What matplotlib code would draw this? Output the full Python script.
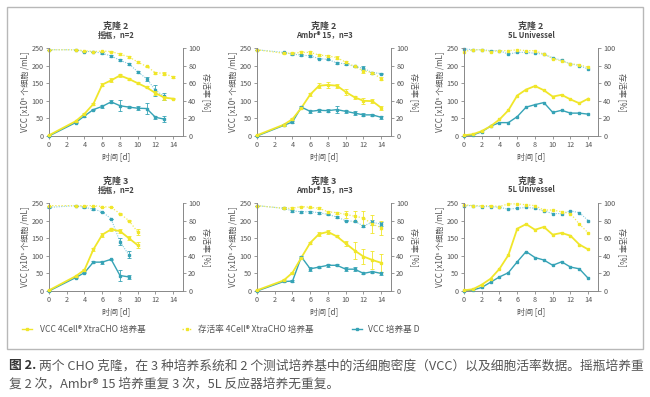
import numpy as np
import matplotlib
matplotlib.use("Agg")
import matplotlib.pyplot as plt
from matplotlib.lines import Line2D
from matplotlib.patches import Rectangle

plt.rcParams['font.family'] = ['Noto Sans CJK SC', 'DejaVu Sans']

YEL    = "#f0e62a"
YEL_L  = "#f3ec55"
TEAL   = "#36a3b6"
TEAL_L = "#86cde2"
TXT    = "#555555"
SPINE  = "#888888"

# ---- 克隆 2, 摇瓶 n=2
c2_sf_days     = [0, 3, 4, 5, 6, 7, 8, 9, 10, 11, 12, 13, 14]
c2_sf_vcc_a    = [2, 42, 63, 91, 146, 158, 172, 162, 150, 138, 122, 109, 106]
c2_sf_vcc_a_e  = [0, 2, 2, 2, 4, 6, 3, 4, 2, 3, 6, 6, 2]
c2_sf_via_a    = [98, 98, 97, 96, 96.5, 96, 93, 90, 84, 79, 72, 71, 67]
c2_sf_via_a_e  = [0, 0, 0, 0, 0.5, 0.5, 1, 1, 1, 1, 1, 2, 1]
c2_sf_days_d   = [0, 3, 4, 5, 6, 7, 8, 9, 10, 11, 12, 13]
c2_sf_vcc_d    = [0, 38, 57, 75, 84, 97, 86, 82, 79, 78, 53, 48]
c2_sf_vcc_d_e  = [0, 2, 2, 2, 5, 4, 15, 3, 5, 15, 4, 8]
c2_sf_via_d    = [98, 98, 96, 96, 94, 91, 86, 82, 73, 65, 52, 45]
c2_sf_via_d_e  = [0, 0, 1, 0, 1, 1, 1, 1, 1, 2, 6, 4]

# ---- 克隆 2, Ambr 15 n=3
c2_am_days     = [0, 3, 4, 5, 6, 7, 8, 9, 10, 11, 12, 13, 14]
c2_am_vcc_a    = [2, 32, 48, 80, 118, 143, 145, 143, 125, 110, 100, 99, 80]
c2_am_vcc_a_e  = [0, 3, 3, 3, 5, 8, 8, 6, 8, 5, 8, 6, 5]
c2_am_via_a    = [98, 94, 94, 95, 95, 92, 91, 89, 84, 79, 74, 72, 65]
c2_am_via_a_e  = [0, 1, 1, 1.5, 1.5, 1, 1, 1.5, 1.5, 1, 2, 1, 1.5]
c2_am_days_d   = [0, 3, 4, 5, 6, 7, 8, 9, 10, 11, 12, 13, 14]
c2_am_vcc_d    = [0, 30, 40, 82, 70, 73, 72, 75, 70, 65, 60, 60, 53]
c2_am_vcc_d_e  = [0, 2, 3, 2, 5, 5, 5, 10, 5, 5, 4, 3, 4]
c2_am_via_d    = [98, 95, 93, 92, 91, 88, 87, 83, 82, 79, 77, 72, 71]
c2_am_via_d_e  = [0, 1, 1, 1, 1, 1, 1, 1, 1, 1, 2, 1, 1]

# ---- 克隆 2, 5L Univessel
c2_uv_days     = list(range(15))
c2_uv_vcc_a    = [2, 5, 14, 28, 47, 73, 115, 132, 142, 130, 112, 117, 104, 93, 106]
c2_uv_via_a    = [96, 98, 98, 96, 97, 97, 98, 97, 97, 93, 88, 85, 82, 81, 78]
c2_uv_vcc_d    = [0, 3, 12, 28, 38, 38, 55, 82, 89, 95, 67, 73, 65, 65, 62]
c2_uv_via_d    = [99, 98, 98, 97, 97, 93, 95, 95, 94, 93, 89, 86, 82, 80, 76]

# ---- 克隆 3, 摇瓶 n=2
c3_sf_days     = [0, 3, 4, 5, 6, 7, 8, 9, 10]
c3_sf_vcc_a    = [2, 42, 60, 118, 160, 175, 170, 150, 130]
c3_sf_vcc_a_e  = [0, 2, 2, 4, 6, 5, 5, 6, 8]
c3_sf_via_a    = [97, 97, 97, 97, 96, 95, 88, 80, 67]
c3_sf_via_a_e  = [0, 0, 0, 0, 0, 0, 1, 1, 3]
c3_sf_days_d   = [0, 3, 4, 5, 6, 7, 8, 9]
c3_sf_vcc_d    = [0, 38, 52, 82, 82, 90, 44, 40]
c3_sf_vcc_d_e  = [0, 2, 2, 2, 4, 2, 15, 5]
c3_sf_via_d    = [95, 97, 95, 93, 90, 82, 56, 41]
c3_sf_via_d_e  = [1, 0, 1, 1, 0, 0, 4, 4]

# ---- 克隆 3, Ambr 15 n=3
c3_am_days     = [0, 3, 4, 5, 6, 7, 8, 9, 10, 11, 12, 13, 14]
c3_am_vcc_a    = [2, 30, 52, 95, 137, 162, 168, 155, 135, 115, 98, 88, 80]
c3_am_vcc_a_e  = [0, 3, 2, 3, 3, 5, 6, 3, 6, 25, 22, 25, 25]
c3_am_via_a    = [97, 94, 94, 96, 95, 94, 90, 89, 87, 85, 83, 76, 72]
c3_am_via_a_e  = [0, 1, 1, 1, 1, 1, 1, 1, 4, 6, 8, 10, 8]
c3_am_days_d   = [0, 3, 4, 5, 6, 7, 8, 9, 10, 11, 12, 13, 14]
c3_am_vcc_d    = [0, 27, 28, 97, 63, 68, 73, 73, 62, 62, 50, 55, 50]
c3_am_vcc_d_e  = [0, 2, 2, 2, 6, 3, 5, 3, 5, 5, 3, 3, 5]
c3_am_via_d    = [97, 94, 91, 90, 90, 89, 87, 84, 80, 79, 74, 78, 76]
c3_am_via_d_e  = [0, 1, 1, 1, 1, 1, 1, 1, 1, 1, 1, 3, 2]

# ---- 克隆 3, 5L Univessel
c3_uv_days     = list(range(15))
c3_uv_vcc_a    = [2, 5, 18, 35, 63, 102, 177, 190, 174, 182, 160, 165, 157, 132, 118]
c3_uv_via_a    = [98, 97, 97, 97, 96, 99, 99, 98, 97, 92, 92, 90, 88, 76, 66]
c3_uv_vcc_d    = [0, 3, 10, 25, 40, 52, 83, 112, 95, 88, 73, 83, 68, 63, 36]
c3_uv_via_d    = [97, 97, 96, 96, 95, 93, 94, 95, 94, 91, 88, 88, 91, 89, 80]

panel_titles = ["克隆 2", "克隆 2", "克隆 2", "克隆 3", "克隆 3", "克隆 3"]
panel_subs   = ["摇瓶，n=2", "Ambr® 15，n=3", "5L Univessel",
                "摇瓶，n=2", "Ambr® 15，n=3", "5L Univessel"]

panels = [
    (c2_sf_days, c2_sf_vcc_a, c2_sf_vcc_a_e, c2_sf_via_a, c2_sf_via_a_e,
     c2_sf_days_d, c2_sf_vcc_d, c2_sf_vcc_d_e, c2_sf_via_d, c2_sf_via_d_e),
    (c2_am_days, c2_am_vcc_a, c2_am_vcc_a_e, c2_am_via_a, c2_am_via_a_e,
     c2_am_days_d, c2_am_vcc_d, c2_am_vcc_d_e, c2_am_via_d, c2_am_via_d_e),
    (c2_uv_days, c2_uv_vcc_a, None, c2_uv_via_a, None,
     c2_uv_days, c2_uv_vcc_d, None, c2_uv_via_d, None),
    (c3_sf_days, c3_sf_vcc_a, c3_sf_vcc_a_e, c3_sf_via_a, c3_sf_via_a_e,
     c3_sf_days_d, c3_sf_vcc_d, c3_sf_vcc_d_e, c3_sf_via_d, c3_sf_via_d_e),
    (c3_am_days, c3_am_vcc_a, c3_am_vcc_a_e, c3_am_via_a, c3_am_via_a_e,
     c3_am_days_d, c3_am_vcc_d, c3_am_vcc_d_e, c3_am_via_d, c3_am_via_d_e),
    (c3_uv_days, c3_uv_vcc_a, None, c3_uv_via_a, None,
     c3_uv_days, c3_uv_vcc_d, None, c3_uv_via_d, None),
]

W, H = 650, 397
fig = plt.figure(figsize=(W / 100, H / 100), dpi=100)

# 外框
fig.patches.append(Rectangle((7 / W, 1 - 349 / H), 636 / W, 342 / H,
                             transform=fig.transFigure, fill=False,
                             edgecolor="#b8b8b8", lw=1.0))

lefts = [49, 257, 464]
bottoms = [136, 291]
aw, ah = 134, 88


def series(ax, x, y, e, color, lcolor, ls, lw):
    if e is not None:
        ax.errorbar(x, y, yerr=e, fmt="none", ecolor=color, elinewidth=0.6,
                    capsize=1.3, capthick=0.6, zorder=3, clip_on=False)
    ax.plot(x, y, ls=ls, color=lcolor, lw=lw, zorder=2, clip_on=False)
    ax.plot(x, y, ls="none", marker="s", ms=2.0, color=color, zorder=4,
            clip_on=False)


for i, p in enumerate(panels):
    dx, va, vae, ia, iae, dd, vd, vde, idv, ide = p
    L = lefts[i % 3]
    B = bottoms[i // 3]
    ax = fig.add_axes([L / W, 1 - B / H, aw / W, ah / H])
    ax2 = ax.twinx()
    ax.set_xlim(0, 15.1)
    ax.set_ylim(0, 250)
    ax2.set_ylim(0, 100)
    ax.set_xticks(range(0, 15, 2))
    ax.set_yticks(range(0, 251, 50))
    ax2.set_yticks(range(0, 101, 20))
    for a in (ax, ax2):
        a.spines["top"].set_visible(False)
        for s in a.spines.values():
            s.set_color(SPINE)
            s.set_linewidth(0.7)
        a.tick_params(labelsize=5.2, colors=SPINE, labelcolor=TXT,
                      length=2.2, width=0.6, pad=1.5)
    ax.spines["right"].set_visible(False)
    ax2.spines["left"].set_visible(False)
    ax2.spines["bottom"].set_visible(False)

    # 存活率 (右轴)
    series(ax2, dd, idv, ide, TEAL, TEAL_L, (0, (1, 1.2)), 0.8)
    series(ax2, dx, ia, iae, YEL, YEL_L, (0, (1, 1.5)), 0.9)
    # VCC (左轴) 画在上面
    ax.set_zorder(ax2.get_zorder() + 1)
    ax.patch.set_visible(False)
    series(ax, dd, vd, vde, TEAL, TEAL, "-", 1.0)
    series(ax, dx, va, vae, YEL, YEL, "-", 1.3)

    ax.set_xlabel("时间 [d]", fontsize=5.8, color=TXT, labelpad=2)
    ax.set_ylabel("VCC [x10⁵ 个细胞 /mL]", fontsize=5.8, color=TXT, labelpad=2)
    ax2.set_ylabel("存活率 [%]", fontsize=5.8, color=TXT, rotation=270,
                   labelpad=8)

    cx = (L + aw / 2) / W
    top = B - ah
    fig.text(cx, 1 - (top - 22) / H, panel_titles[i], ha="center",
             va="center", fontsize=6.5, fontweight="bold", color="#444444")
    fig.text(cx, 1 - (top - 13) / H, panel_subs[i], ha="center",
             va="center", fontsize=5.5, fontweight="bold", color="#444444")

# 图例
legend_items = [
    ("VCC 4Cell® XtraCHO 培养基", YEL, "-", 22, 40),
    ("存活率 4Cell® XtraCHO 培养基", YEL, ":", 182, 198),
    ("VCC 培养基 D", TEAL, "-", 352, 368),
]
ly = 1 - 329 / H
for lab, col, ls, x0, xt in legend_items:
    fig.add_artist(Line2D([x0 / W, (x0 + 10) / W], [ly, ly], color=col,
                          ls=ls, lw=1.0, transform=fig.transFigure))
    fig.add_artist(Line2D([(x0 + 5) / W], [ly], color=col, marker="s",
                          ms=1.8, ls="none", transform=fig.transFigure))
    fig.text(xt / W, ly, lab, fontsize=6.2, color=TXT, va="center", ha="left")

# 图注
cap_bold = "图 2."
cap1 = "两个 CHO 克隆，在 3 种培养系统和 2 个测试培养基中的活细胞密度（VCC）以及细胞活率数据。摇瓶培养重"
cap2 = "复 2 次，Ambr® 15 培养重复 3 次，5L 反应器培养无重复。"
fs_cap = 9.2
t0 = fig.text(9 / W, 1 - 366 / H, cap_bold, fontsize=fs_cap, fontweight="bold",
              color="#333333", va="center", ha="left")
r = fig.canvas.get_renderer()
bb = t0.get_window_extent(renderer=r)
fig.text((bb.x1 + 3) / W, 1 - 366 / H, cap1, fontsize=fs_cap, color="#555555",
         va="center", ha="left", style="italic")
fig.text(9 / W, 1 - 384 / H, cap2, fontsize=fs_cap, color="#555555",
         va="center", ha="left", style="italic")

fig.savefig("out.png", dpi=100)
